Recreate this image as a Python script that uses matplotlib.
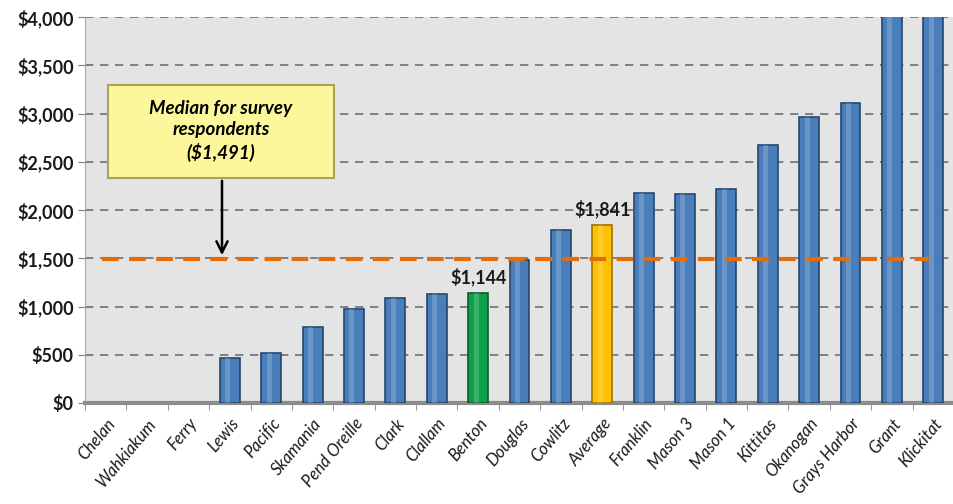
import matplotlib.pyplot as plt
import numpy as np
from matplotlib.patches import FancyBboxPatch

# Data
counties = ['Chelan', 'Wahkiakum', 'Ferry', 'Lewis', 'Pacific', 'Skamania', 'Pend Oreille',
            'Clark', 'Clallam', 'Benton', 'Douglas', 'Cowlitz', 'Average', 'Franklin',
            'Mason 3', 'Mason 1', 'Kittitas', 'Okanogan', 'Grays Harbor', 'Grant', 'Klickitat']
costs = [0, 0, 0, 465, 515, 790, 975, 1085, 1125, 1144, 1480, 1795, 1841, 2175,
         2170, 2220, 2670, 2960, 3105, 5200, 6000]
median_value = 1491
labelled = {'Benton': 1144, 'Average': 1841}

colors = []
edges = []
for c in counties:
    if c == 'Benton':
        colors.append('#0FA14A')
        edges.append('#0B5C2B')
    elif c == 'Average':
        colors.append('#FFC000')
        edges.append('#9C7400')
    else:
        colors.append('#4A7EBB')
        edges.append('#24466F')

fig = plt.figure(figsize=(9.54, 5.04), dpi=100)
ax = fig.add_axes([85 / 954, 1 - 403 / 504, 1 - 85 / 954, (403 - 17) / 504])
ax.set_facecolor('#E4E4E4')

x = np.arange(len(counties))
costs_arr = np.array(costs)
shown = costs_arr > 0
ax.bar(x[shown], costs_arr[shown], width=0.48, color=np.array(colors)[shown],
       edgecolor=np.array(edges)[shown], linewidth=1.2, zorder=3)
# light highlight stripe on bars
ax.bar(x[shown] - 0.05, costs_arr[shown], width=0.12, color='white', alpha=0.18,
       linewidth=0, zorder=4)

ax.set_ylim(0, 4000)
ax.set_xlim(-0.5, 20.26)
ax.set_yticks(np.arange(0, 4001, 500))
ax.set_yticklabels(['${:,.0f}'.format(v) for v in np.arange(0, 4001, 500)],
                   fontsize=13, fontweight='bold', family='Lato', color='#1A1A1A')
ax.yaxis.grid(True, color='#6F6F6F', linestyle=(0, (5, 4)), linewidth=1.2, zorder=1)

ax.set_xticks(x)
ax.set_xticklabels(counties, rotation=50, ha='right', rotation_mode='anchor',
                   fontsize=12, style='italic', family='Lato', color='#1A1A1A')
ax.tick_params(axis='x', length=0, pad=9)
ax.set_xticks(np.arange(-0.5, 21, 1), minor=True)
ax.tick_params(axis='x', which='minor', length=5, color='#7F7F7F')
ax.tick_params(axis='y', length=5, color='#7F7F7F', pad=3)

for s in ['top', 'right']:
    ax.spines[s].set_visible(False)
ax.spines['left'].set_color('#A6A6A6')
ax.spines['bottom'].set_color('#8C8C8C')
ax.spines['bottom'].set_linewidth(3)

# median line
ax.plot([-0.1, 19.9], [median_value, median_value], color='#E46C0A', linewidth=3,
        linestyle=(0, (4, 2.5)), zorder=5)

# value labels
for name, val in labelled.items():
    i = counties.index(name)
    ax.text(i, val + 70, '${:,.0f}'.format(val), ha='center', va='bottom',
            fontsize=13, fontweight='bold', family='Lato', color='#1A1A1A', zorder=6)

# callout box
fig.patches.append(FancyBboxPatch((108 / 954, 1 - 178 / 504), 226 / 954, 93 / 504,
                                  boxstyle='square,pad=0', transform=fig.transFigure,
                                  facecolor='#FBF79A', edgecolor='#A9A35A', linewidth=1.5,
                                  zorder=7))
fig.text(221 / 954, 1 - 131 / 504, 'Median for survey\nrespondents\n($1,491)', ha='center',
         va='center', fontsize=13.5, fontweight='bold', style='italic', family='Lato',
         linespacing=1.3, zorder=8)
ax.annotate('', xy=(222 / 954, 1 - 258 / 504), xycoords='figure fraction',
            xytext=(222 / 954, 1 - 178 / 504), textcoords='figure fraction',
            arrowprops=dict(arrowstyle='->', color='black', lw=1.8, mutation_scale=20),
            zorder=8)

fig.savefig('out.png', dpi=100)
